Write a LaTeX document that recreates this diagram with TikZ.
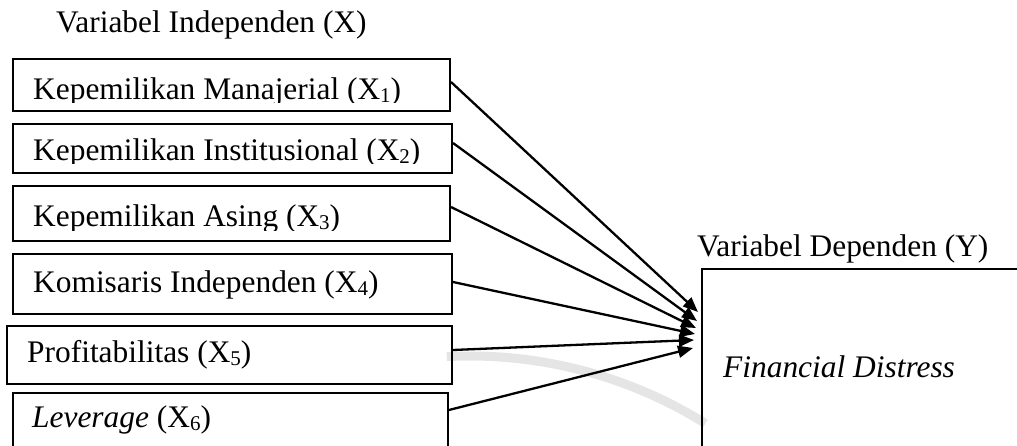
\documentclass[tikz,border=0pt]{standalone}
\usepackage{fontspec}
\setmainfont{Liberation Serif}
\usetikzlibrary{arrows.meta,calc}
% lowered, smaller index digit
\newcommand\xsub[1]{\raisebox{-3pt}{\fontsize{21}{21}\selectfont #1}}
\tikzset{
  vbox/.style={draw, line width=2pt, rectangle, inner sep=0pt, anchor=north west},
  lbl/.style={anchor=base west, inner sep=0pt, font=\fontsize{31.4}{36}\selectfont},
  link/.style={line width=2.3pt, -{Triangle[length=15pt,width=12pt]}},
  faint/.style={gray!20, line width=9pt}
}
\begin{document}
\begin{tikzpicture}[x=1pt,y=-1pt]
\useasboundingbox (0,0) rectangle (1017,446);
\fill[white] (0,0) rectangle (1017,446);

% faint background seal
\draw[faint] (470,800) ++(-93:444) arc[start angle=-93, end angle=-58, radius=444];

% headings
\node[lbl] (hx) at (56,33) {Variabel Independen (X)};
\node[lbl] (hy) at (697,257) {Variabel Dependen (Y)};

% independent variable boxes
\node[vbox, minimum width=437pt, minimum height=52pt] (x1) at (12,58) {};
\node[vbox, minimum width=439pt, minimum height=49pt] (x2) at (12,123) {};
\node[vbox, minimum width=437pt, minimum height=55pt] (x3) at (12,185) {};
\node[vbox, minimum width=439pt, minimum height=60pt] (x4) at (12,253) {};
\node[vbox, minimum width=445pt, minimum height=58pt] (x5) at (6,325) {};
\node[vbox, minimum width=435pt, minimum height=80pt] (x6) at (12,392) {};

% dependent variable box
\node[vbox, minimum width=400pt, minimum height=250pt] (y) at (701,268) {};

% box texts (the upper three are cut off at the text area's lower edge)
\begin{scope}
  \clip (13,59) rectangle (448,103);
  \node[lbl] (t1) at (33,100) {Kepemilikan Manajerial (X\xsub{1})};
\end{scope}
\begin{scope}
  \clip (13,124) rectangle (450,164);
  \node[lbl] (t2) at (33,161) {Kepemilikan Institusional (X\xsub{2})};
\end{scope}
\begin{scope}
  \clip (13,186) rectangle (448,231);
  \node[lbl] (t3) at (33,227) {Kepemilikan Asing (X\xsub{3})};
\end{scope}
\node[lbl] (t4) at (33,292) {Komisaris Independen (X\xsub{4})};
\node[lbl] (t5) at (27,362) {Profitabilitas (X\xsub{5})};
\node[lbl] (t6) at (32,427) {\textit{Leverage} (X\xsub{6})};
\node[lbl] (ty) at (723,377) {\textit{Financial Distress}};

% influence arrows
\draw[link] ($(x1.north east)+(0,24)$) -- ($(y.north west)+(-3,44)$);
\draw[link] ($(x2.north east)+(0,20)$) -- ($(y.north west)+(-4,53)$);
\draw[link] ($(x3.north east)+(0,22)$) -- ($(y.north west)+(-5,60)$);
\draw[link] ($(x4.north east)+(0,29)$) -- ($(y.north west)+(-6,66)$);
\draw[link] ($(x5.north east)+(0,25)$) -- ($(y.north west)+(-7,72)$);
\draw[link] ($(x6.north east)+(0,18)$) -- ($(y.north west)+(-8,80)$);
\end{tikzpicture}
\end{document}
